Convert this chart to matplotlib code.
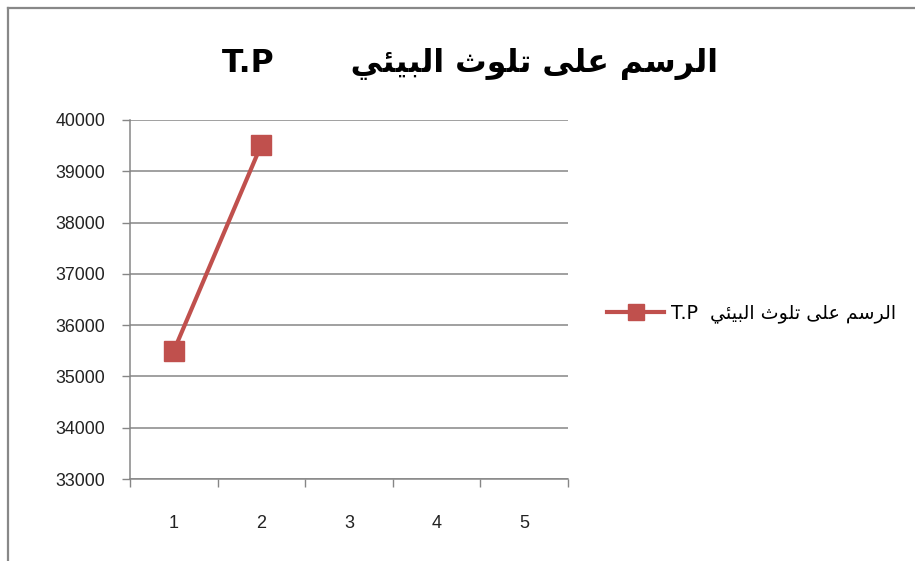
#!/usr/bin/env python3
"""Excel-style line chart with an Arabic title, saved as out.png."""

import matplotlib
matplotlib.use('Agg')
import matplotlib.pyplot as plt
from matplotlib.lines import Line2D
from matplotlib.ticker import FixedLocator, NullFormatter, FixedFormatter

# data
categories = [1, 2, 3, 4, 5]
point_x = [1, 2]
point_values = [35500, 39520]
y_ticks = [33000, 34000, 35000, 36000, 37000, 38000, 39000, 40000]
title_ar = 'الرسم على تلوث البيئي'
title_latin = 'T.P'

# Arabic presentation forms: (isolated, final, initial, medial)
FORMS = {
    'ا': ('\uFE8D', '\uFE8E', None, None),
    'ل': ('\uFEDD', '\uFEDE', '\uFEDF', '\uFEE0'),
    'ر': ('\uFEAD', '\uFEAE', None, None),
    'س': ('\uFEB1', '\uFEB2', '\uFEB3', '\uFEB4'),
    'م': ('\uFEE1', '\uFEE2', '\uFEE3', '\uFEE4'),
    'ع': ('\uFEC9', '\uFECA', '\uFECB', '\uFECC'),
    'ى': ('\uFEEF', '\uFEF0', None, None),
    'ت': ('\uFE95', '\uFE96', '\uFE97', '\uFE98'),
    'و': ('\uFEED', '\uFEEE', None, None),
    'ث': ('\uFE99', '\uFE9A', '\uFE9B', '\uFE9C'),
    'ب': ('\uFE8F', '\uFE90', '\uFE91', '\uFE92'),
    'ئ': ('\uFE89', '\uFE8A', '\uFE8B', '\uFE8C'),
    'ي': ('\uFEF1', '\uFEF2', '\uFEF3', '\uFEF4'),
}


def shape_arabic(text):
    """Join letters into contextual forms and return visual (left-to-right) order."""
    out = []
    for i, ch in enumerate(text):
        if ch not in FORMS:
            out.append(ch)
            continue
        prev = text[i - 1] if i > 0 else ''
        nxt = text[i + 1] if i + 1 < len(text) else ''
        joins_prev = prev in FORMS and FORMS[prev][2] is not None
        joins_next = FORMS[ch][2] is not None and nxt in FORMS
        iso, fin, ini, med = FORMS[ch]
        if joins_prev and joins_next:
            out.append(med)
        elif joins_prev:
            out.append(fin)
        elif joins_next:
            out.append(ini)
        else:
            out.append(iso)
    return ''.join(reversed(out))


plt.rcParams['font.family'] = ['Liberation Sans', 'DejaVu Sans']

fig = plt.figure(figsize=(9.15, 5.61), dpi=100)
W, H = 915, 561
ax = fig.add_axes([130 / W, 1 - 479 / H, (568 - 130) / W, (479 - 120) / H])

red = '#C0504D'
grid_c = '#868686'

ax.plot(point_x, point_values, color=red, linewidth=3.0, marker='s',
        markersize=14, markerfacecolor=red, markeredgecolor=red, zorder=3)

ax.set_xlim(0.5, 5.5)
ax.set_ylim(y_ticks[0], y_ticks[-1])
ax.set_yticks(y_ticks)
ax.set_yticklabels([str(v) for v in y_ticks])
ax.yaxis.grid(True, color=grid_c, linewidth=1.1)
ax.set_axisbelow(True)

# category axis: ticks between categories, labels centred
ax.xaxis.set_major_locator(FixedLocator([c - 0.5 for c in categories] + [categories[-1] + 0.5]))
ax.xaxis.set_major_formatter(NullFormatter())
ax.xaxis.set_minor_locator(FixedLocator(categories))
ax.xaxis.set_minor_formatter(FixedFormatter([str(c) for c in categories]))
ax.tick_params(axis='x', which='major', length=6, width=1, color=grid_c, direction='out')
ax.tick_params(axis='x', which='minor', length=0, pad=26, labelsize=13, labelcolor='#222222')
ax.tick_params(axis='y', length=6, width=1, color=grid_c, direction='out',
               pad=12, labelsize=12.8, labelcolor='#222222')

for side in ['top', 'right']:
    ax.spines[side].set_visible(False)
for side in ['left', 'bottom']:
    ax.spines[side].set_color(grid_c)
    ax.spines[side].set_linewidth(1.1)

ar = shape_arabic(title_ar)

# title
fig.text(470 / W, 1 - 64 / H, title_latin + '       ' + ar, ha='center', va='center',
         fontsize=22.7, fontweight='bold', family=['DejaVu Sans'])

# legend
legend_handle = Line2D([], [], color=red, linewidth=3.0, marker='s', markersize=12,
                       markerfacecolor=red, markeredgecolor=red)
fig.legend([legend_handle], [title_latin + '  ' + ar], loc='center left',
           bbox_to_anchor=(590 / W, 1 - 313 / H), frameon=False,
           handlelength=3.0, handletextpad=0.35, prop={'family': ['DejaVu Sans'], 'size': 13.7})

# outer chart border (left and top edges visible)
fig.add_artist(Line2D([8 / W, 8 / W], [0, 1 - 8 / H], transform=fig.transFigure,
                      color='#888888', linewidth=1.6))
fig.add_artist(Line2D([8 / W, 1], [1 - 8 / H, 1 - 8 / H], transform=fig.transFigure,
                      color='#888888', linewidth=1.6))

fig.savefig('out.png', dpi=100, facecolor='white')
